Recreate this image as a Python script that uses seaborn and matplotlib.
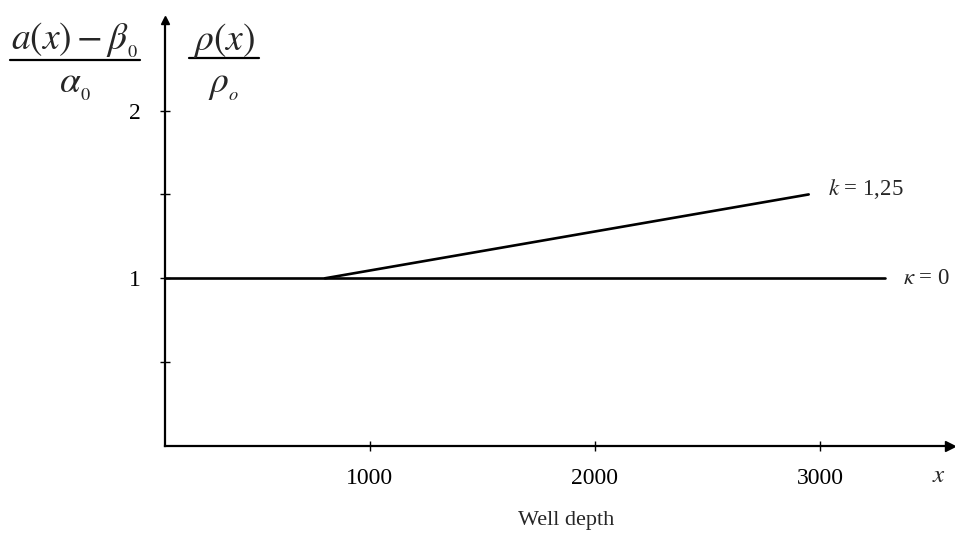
import matplotlib
matplotlib.use("Agg")
import matplotlib.pyplot as plt
from matplotlib.lines import Line2D
import seaborn as sns

# values
depth_flat = [89, 3290]
ratio_flat = [1.0, 1.0]
depth_k = [800, 2950]
ratio_k = [1.0, 1.5]
xticks = [1000, 2000, 3000]
yticks = [0.5, 1.0, 1.5, 2.0]
ytick_labels = ["", "1", "", "2"]

sns.set_style("white")
plt.rcParams["font.family"] = ["Liberation Serif", "DejaVu Serif"]
plt.rcParams["mathtext.fontset"] = "stix"

W, H = 955, 534
fig = plt.figure(figsize=(W / 100, H / 100), dpi=100)
ax = fig.add_axes([165 / W, 88 / H, 785 / W, 426 / H])

sns.lineplot(x=depth_flat, y=ratio_flat, ax=ax, color="black", linewidth=1.9)
sns.lineplot(x=depth_k, y=ratio_k, ax=ax, color="black", linewidth=1.9)

ax.set_xlim(89, 3578)
ax.set_ylim(0, 2.54)
ax.spines["top"].set_visible(False)
ax.spines["right"].set_visible(False)
for s in ("left", "bottom"):
    ax.spines[s].set_linewidth(1.6)
    ax.spines[s].set_color("black")

ax.set_xticks(xticks)
ax.set_xticklabels([str(t) for t in xticks])
ax.set_yticks(yticks)
ax.set_yticklabels(ytick_labels)
ax.tick_params(axis="both", direction="inout", length=7, width=1, colors="black",
               labelsize=17, bottom=True, left=True)
ax.tick_params(axis="x", pad=12)
ax.tick_params(axis="y", pad=14)

# axis arrows
ax.plot(1, 0, ">k", transform=ax.transAxes, clip_on=False, markersize=7)
ax.plot(0, 1, "^k", transform=ax.transAxes, clip_on=False, markersize=6)

ax.text(3036, 1.53, r"$k$ = 1,25", fontsize=16.5, ha="left", va="center")
ax.text(3369, 1.0, r"$\kappa$ = 0", fontsize=16.5, ha="left", va="center")
ax.text(3530, -0.18, r"$x$", fontsize=18, ha="center", va="center")

# y axis label as two stacked fractions
def fx(px):
    return px / W

def fy(py):
    return 1 - py / H

fig.text(fx(75), fy(40), r"$a\left(x\right) - \beta_{_0}$", fontsize=27, ha="center", va="center")
fig.add_artist(Line2D([fx(10), fx(140)], [fy(60), fy(60)], color="black", linewidth=1.6,
                      transform=fig.transFigure))
fig.text(fx(75), fy(86), r"$\alpha_{_0}$", fontsize=27, ha="center", va="center")

fig.text(fx(224), fy(40), r"$\rho\left(x\right)$", fontsize=27, ha="center", va="center")
fig.add_artist(Line2D([fx(189), fx(259)], [fy(58), fy(58)], color="black", linewidth=1.6,
                      transform=fig.transFigure))
fig.text(fx(224), fy(86), r"$\rho_{_o}$", fontsize=27, ha="center", va="center")

fig.text(fx(566), fy(521), "Well depth", fontsize=16, ha="center", va="center")

fig.savefig("out.png", dpi=100, facecolor="white")
